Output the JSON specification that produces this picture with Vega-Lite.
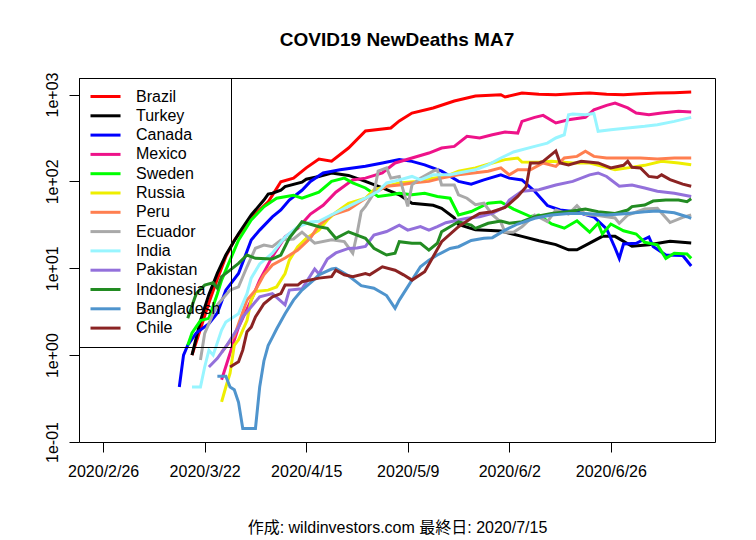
{
  "$schema": "https://vega.github.io/schema/vega-lite/v6.json",
  "width": 636,
  "height": 364,
  "autosize": {"type": "none"},
  "padding": {"left": 79, "top": 78, "right": 41, "bottom": 98},
  "background": "white",
  "title": {
    "text": "COVID19 NewDeaths MA7",
    "font": "Liberation Sans",
    "fontSize": 19,
    "fontWeight": "bold",
    "color": "black",
    "anchor": "middle",
    "frame": "group",
    "baseline": "alphabetic",
    "offset": 7
  },
  "data": {
    "values": [
      {"country": "Brazil", "date": "2020-03-19", "deaths": 1.0},
      {"country": "Brazil", "date": "2020-03-21", "deaths": 2.0},
      {"country": "Brazil", "date": "2020-03-23", "deaths": 4.0},
      {"country": "Brazil", "date": "2020-03-25", "deaths": 7.5},
      {"country": "Brazil", "date": "2020-03-27", "deaths": 13.6},
      {"country": "Brazil", "date": "2020-03-29", "deaths": 21},
      {"country": "Brazil", "date": "2020-04-02", "deaths": 37.9},
      {"country": "Brazil", "date": "2020-04-06", "deaths": 58},
      {"country": "Brazil", "date": "2020-04-09", "deaths": 99},
      {"country": "Brazil", "date": "2020-04-12", "deaths": 109},
      {"country": "Brazil", "date": "2020-04-15", "deaths": 143},
      {"country": "Brazil", "date": "2020-04-18", "deaths": 181},
      {"country": "Brazil", "date": "2020-04-21", "deaths": 171},
      {"country": "Brazil", "date": "2020-04-25", "deaths": 242},
      {"country": "Brazil", "date": "2020-04-29", "deaths": 380},
      {"country": "Brazil", "date": "2020-05-05", "deaths": 412},
      {"country": "Brazil", "date": "2020-05-07", "deaths": 496},
      {"country": "Brazil", "date": "2020-05-10", "deaths": 612},
      {"country": "Brazil", "date": "2020-05-15", "deaths": 700},
      {"country": "Brazil", "date": "2020-05-20", "deaths": 841},
      {"country": "Brazil", "date": "2020-05-25", "deaths": 961},
      {"country": "Brazil", "date": "2020-05-31", "deaths": 995},
      {"country": "Brazil", "date": "2020-06-01", "deaths": 936},
      {"country": "Brazil", "date": "2020-06-05", "deaths": 1040},
      {"country": "Brazil", "date": "2020-06-09", "deaths": 1010},
      {"country": "Brazil", "date": "2020-06-13", "deaths": 995},
      {"country": "Brazil", "date": "2020-06-17", "deaths": 1020},
      {"country": "Brazil", "date": "2020-06-21", "deaths": 1040},
      {"country": "Brazil", "date": "2020-06-25", "deaths": 1010},
      {"country": "Brazil", "date": "2020-06-29", "deaths": 995},
      {"country": "Brazil", "date": "2020-07-03", "deaths": 1020},
      {"country": "Brazil", "date": "2020-07-07", "deaths": 1040},
      {"country": "Brazil", "date": "2020-07-11", "deaths": 1050},
      {"country": "Brazil", "date": "2020-07-15", "deaths": 1069},

      {"country": "Turkey", "date": "2020-03-19", "deaths": 1.0},
      {"country": "Turkey", "date": "2020-03-21", "deaths": 2.5},
      {"country": "Turkey", "date": "2020-03-23", "deaths": 5.0},
      {"country": "Turkey", "date": "2020-03-25", "deaths": 8.8},
      {"country": "Turkey", "date": "2020-03-27", "deaths": 14.2},
      {"country": "Turkey", "date": "2020-03-30", "deaths": 25},
      {"country": "Turkey", "date": "2020-04-02", "deaths": 41},
      {"country": "Turkey", "date": "2020-04-05", "deaths": 61},
      {"country": "Turkey", "date": "2020-04-06", "deaths": 71.5},
      {"country": "Turkey", "date": "2020-04-07", "deaths": 73},
      {"country": "Turkey", "date": "2020-04-09", "deaths": 79},
      {"country": "Turkey", "date": "2020-04-10", "deaths": 87},
      {"country": "Turkey", "date": "2020-04-14", "deaths": 98},
      {"country": "Turkey", "date": "2020-04-15", "deaths": 106},
      {"country": "Turkey", "date": "2020-04-18", "deaths": 114},
      {"country": "Turkey", "date": "2020-04-21", "deaths": 125},
      {"country": "Turkey", "date": "2020-04-25", "deaths": 117},
      {"country": "Turkey", "date": "2020-04-29", "deaths": 100},
      {"country": "Turkey", "date": "2020-05-03", "deaths": 84},
      {"country": "Turkey", "date": "2020-05-07", "deaths": 70},
      {"country": "Turkey", "date": "2020-05-10", "deaths": 56},
      {"country": "Turkey", "date": "2020-05-15", "deaths": 53},
      {"country": "Turkey", "date": "2020-05-17", "deaths": 49},
      {"country": "Turkey", "date": "2020-05-20", "deaths": 38},
      {"country": "Turkey", "date": "2020-05-21", "deaths": 32},
      {"country": "Turkey", "date": "2020-05-25", "deaths": 27.7},
      {"country": "Turkey", "date": "2020-05-31", "deaths": 26.8},
      {"country": "Turkey", "date": "2020-06-05", "deaths": 23.3},
      {"country": "Turkey", "date": "2020-06-09", "deaths": 20.7},
      {"country": "Turkey", "date": "2020-06-13", "deaths": 18.7},
      {"country": "Turkey", "date": "2020-06-16", "deaths": 16.3},
      {"country": "Turkey", "date": "2020-06-18", "deaths": 16.3},
      {"country": "Turkey", "date": "2020-06-21", "deaths": 19.5},
      {"country": "Turkey", "date": "2020-06-24", "deaths": 23.3},
      {"country": "Turkey", "date": "2020-06-27", "deaths": 23.3},
      {"country": "Turkey", "date": "2020-07-01", "deaths": 17.9},
      {"country": "Turkey", "date": "2020-07-05", "deaths": 18.7},
      {"country": "Turkey", "date": "2020-07-10", "deaths": 20.4},
      {"country": "Turkey", "date": "2020-07-15", "deaths": 19.5},

      {"country": "Canada", "date": "2020-03-16", "deaths": 0.43},
      {"country": "Canada", "date": "2020-03-17", "deaths": 1.0},
      {"country": "Canada", "date": "2020-03-18", "deaths": 1.3},
      {"country": "Canada", "date": "2020-03-20", "deaths": 1.8},
      {"country": "Canada", "date": "2020-03-23", "deaths": 2.3},
      {"country": "Canada", "date": "2020-03-25", "deaths": 3.05},
      {"country": "Canada", "date": "2020-03-27", "deaths": 5.6},
      {"country": "Canada", "date": "2020-03-30", "deaths": 8.7},
      {"country": "Canada", "date": "2020-04-02", "deaths": 21.1},
      {"country": "Canada", "date": "2020-04-04", "deaths": 27.5},
      {"country": "Canada", "date": "2020-04-07", "deaths": 39},
      {"country": "Canada", "date": "2020-04-09", "deaths": 46.8},
      {"country": "Canada", "date": "2020-04-11", "deaths": 61},
      {"country": "Canada", "date": "2020-04-14", "deaths": 79},
      {"country": "Canada", "date": "2020-04-16", "deaths": 100},
      {"country": "Canada", "date": "2020-04-19", "deaths": 125},
      {"country": "Canada", "date": "2020-04-23", "deaths": 136},
      {"country": "Canada", "date": "2020-04-29", "deaths": 149},
      {"country": "Canada", "date": "2020-05-03", "deaths": 163},
      {"country": "Canada", "date": "2020-05-07", "deaths": 178},
      {"country": "Canada", "date": "2020-05-10", "deaths": 170},
      {"country": "Canada", "date": "2020-05-13", "deaths": 155},
      {"country": "Canada", "date": "2020-05-17", "deaths": 131},
      {"country": "Canada", "date": "2020-05-21", "deaths": 100},
      {"country": "Canada", "date": "2020-05-24", "deaths": 93},
      {"country": "Canada", "date": "2020-05-27", "deaths": 104},
      {"country": "Canada", "date": "2020-05-31", "deaths": 119},
      {"country": "Canada", "date": "2020-06-02", "deaths": 109},
      {"country": "Canada", "date": "2020-06-05", "deaths": 104},
      {"country": "Canada", "date": "2020-06-08", "deaths": 77},
      {"country": "Canada", "date": "2020-06-11", "deaths": 52.7},
      {"country": "Canada", "date": "2020-06-14", "deaths": 46.8},
      {"country": "Canada", "date": "2020-06-18", "deaths": 44.4},
      {"country": "Canada", "date": "2020-06-22", "deaths": 38.9},
      {"country": "Canada", "date": "2020-06-25", "deaths": 28.3},
      {"country": "Canada", "date": "2020-06-27", "deaths": 17.1},
      {"country": "Canada", "date": "2020-06-28", "deaths": 13},
      {"country": "Canada", "date": "2020-06-29", "deaths": 19},
      {"country": "Canada", "date": "2020-07-02", "deaths": 19.4},
      {"country": "Canada", "date": "2020-07-05", "deaths": 22.9},
      {"country": "Canada", "date": "2020-07-06", "deaths": 17.8},
      {"country": "Canada", "date": "2020-07-09", "deaths": 14.2},
      {"country": "Canada", "date": "2020-07-13", "deaths": 14},
      {"country": "Canada", "date": "2020-07-15", "deaths": 10.6},

      {"country": "Mexico", "date": "2020-03-26", "deaths": 0.52},
      {"country": "Mexico", "date": "2020-03-28", "deaths": 1.05},
      {"country": "Mexico", "date": "2020-03-30", "deaths": 2.1},
      {"country": "Mexico", "date": "2020-04-02", "deaths": 4.3},
      {"country": "Mexico", "date": "2020-04-04", "deaths": 7.3},
      {"country": "Mexico", "date": "2020-04-07", "deaths": 13.6},
      {"country": "Mexico", "date": "2020-04-10", "deaths": 23},
      {"country": "Mexico", "date": "2020-04-13", "deaths": 28.8},
      {"country": "Mexico", "date": "2020-04-16", "deaths": 42},
      {"country": "Mexico", "date": "2020-04-19", "deaths": 53},
      {"country": "Mexico", "date": "2020-04-22", "deaths": 75},
      {"country": "Mexico", "date": "2020-04-26", "deaths": 104},
      {"country": "Mexico", "date": "2020-04-29", "deaths": 109},
      {"country": "Mexico", "date": "2020-05-03", "deaths": 125},
      {"country": "Mexico", "date": "2020-05-06", "deaths": 163},
      {"country": "Mexico", "date": "2020-05-10", "deaths": 186},
      {"country": "Mexico", "date": "2020-05-14", "deaths": 212},
      {"country": "Mexico", "date": "2020-05-17", "deaths": 242},
      {"country": "Mexico", "date": "2020-05-20", "deaths": 253},
      {"country": "Mexico", "date": "2020-05-23", "deaths": 330},
      {"country": "Mexico", "date": "2020-05-26", "deaths": 316},
      {"country": "Mexico", "date": "2020-05-29", "deaths": 344},
      {"country": "Mexico", "date": "2020-06-01", "deaths": 370},
      {"country": "Mexico", "date": "2020-06-04", "deaths": 360},
      {"country": "Mexico", "date": "2020-06-05", "deaths": 491},
      {"country": "Mexico", "date": "2020-06-08", "deaths": 546},
      {"country": "Mexico", "date": "2020-06-10", "deaths": 575},
      {"country": "Mexico", "date": "2020-06-13", "deaths": 470},
      {"country": "Mexico", "date": "2020-06-16", "deaths": 513},
      {"country": "Mexico", "date": "2020-06-20", "deaths": 546},
      {"country": "Mexico", "date": "2020-06-22", "deaths": 668},
      {"country": "Mexico", "date": "2020-06-25", "deaths": 751},
      {"country": "Mexico", "date": "2020-06-27", "deaths": 798},
      {"country": "Mexico", "date": "2020-06-30", "deaths": 700},
      {"country": "Mexico", "date": "2020-07-02", "deaths": 612},
      {"country": "Mexico", "date": "2020-07-05", "deaths": 585},
      {"country": "Mexico", "date": "2020-07-08", "deaths": 612},
      {"country": "Mexico", "date": "2020-07-12", "deaths": 641},
      {"country": "Mexico", "date": "2020-07-15", "deaths": 630},

      {"country": "Sweden", "date": "2020-03-18", "deaths": 1.3},
      {"country": "Sweden", "date": "2020-03-19", "deaths": 1.8},
      {"country": "Sweden", "date": "2020-03-21", "deaths": 2.5},
      {"country": "Sweden", "date": "2020-03-23", "deaths": 2.65},
      {"country": "Sweden", "date": "2020-03-25", "deaths": 5.1},
      {"country": "Sweden", "date": "2020-03-26", "deaths": 7.3},
      {"country": "Sweden", "date": "2020-03-28", "deaths": 12.4},
      {"country": "Sweden", "date": "2020-03-30", "deaths": 21.1},
      {"country": "Sweden", "date": "2020-04-02", "deaths": 35.9},
      {"country": "Sweden", "date": "2020-04-05", "deaths": 51},
      {"country": "Sweden", "date": "2020-04-08", "deaths": 64},
      {"country": "Sweden", "date": "2020-04-12", "deaths": 69},
      {"country": "Sweden", "date": "2020-04-14", "deaths": 64},
      {"country": "Sweden", "date": "2020-04-18", "deaths": 75},
      {"country": "Sweden", "date": "2020-04-21", "deaths": 100},
      {"country": "Sweden", "date": "2020-04-24", "deaths": 109},
      {"country": "Sweden", "date": "2020-04-26", "deaths": 96},
      {"country": "Sweden", "date": "2020-04-29", "deaths": 84},
      {"country": "Sweden", "date": "2020-05-02", "deaths": 67},
      {"country": "Sweden", "date": "2020-05-05", "deaths": 70},
      {"country": "Sweden", "date": "2020-05-07", "deaths": 73},
      {"country": "Sweden", "date": "2020-05-10", "deaths": 70},
      {"country": "Sweden", "date": "2020-05-13", "deaths": 73},
      {"country": "Sweden", "date": "2020-05-16", "deaths": 67},
      {"country": "Sweden", "date": "2020-05-19", "deaths": 64},
      {"country": "Sweden", "date": "2020-05-21", "deaths": 41},
      {"country": "Sweden", "date": "2020-05-24", "deaths": 45},
      {"country": "Sweden", "date": "2020-05-28", "deaths": 56},
      {"country": "Sweden", "date": "2020-05-31", "deaths": 58},
      {"country": "Sweden", "date": "2020-06-03", "deaths": 48},
      {"country": "Sweden", "date": "2020-06-07", "deaths": 39.4},
      {"country": "Sweden", "date": "2020-06-09", "deaths": 41},
      {"country": "Sweden", "date": "2020-06-12", "deaths": 32.3},
      {"country": "Sweden", "date": "2020-06-15", "deaths": 28.9},
      {"country": "Sweden", "date": "2020-06-18", "deaths": 35.2},
      {"country": "Sweden", "date": "2020-06-21", "deaths": 26},
      {"country": "Sweden", "date": "2020-06-23", "deaths": 33},
      {"country": "Sweden", "date": "2020-06-24", "deaths": 24.8},
      {"country": "Sweden", "date": "2020-06-26", "deaths": 32.3},
      {"country": "Sweden", "date": "2020-06-29", "deaths": 27},
      {"country": "Sweden", "date": "2020-07-02", "deaths": 24.8},
      {"country": "Sweden", "date": "2020-07-04", "deaths": 19.9},
      {"country": "Sweden", "date": "2020-07-07", "deaths": 18.6},
      {"country": "Sweden", "date": "2020-07-09", "deaths": 13},
      {"country": "Sweden", "date": "2020-07-11", "deaths": 14.9},
      {"country": "Sweden", "date": "2020-07-14", "deaths": 14.6},
      {"country": "Sweden", "date": "2020-07-15", "deaths": 13},

      {"country": "Russia", "date": "2020-03-26", "deaths": 0.29},
      {"country": "Russia", "date": "2020-03-27", "deaths": 0.43},
      {"country": "Russia", "date": "2020-03-28", "deaths": 0.62},
      {"country": "Russia", "date": "2020-03-29", "deaths": 1.3},
      {"country": "Russia", "date": "2020-03-30", "deaths": 1.5},
      {"country": "Russia", "date": "2020-04-01", "deaths": 2.5},
      {"country": "Russia", "date": "2020-04-02", "deaths": 4.3},
      {"country": "Russia", "date": "2020-04-03", "deaths": 5.4},
      {"country": "Russia", "date": "2020-04-06", "deaths": 5.6},
      {"country": "Russia", "date": "2020-04-08", "deaths": 6.1},
      {"country": "Russia", "date": "2020-04-10", "deaths": 8.7},
      {"country": "Russia", "date": "2020-04-11", "deaths": 12.4},
      {"country": "Russia", "date": "2020-04-13", "deaths": 17.7},
      {"country": "Russia", "date": "2020-04-15", "deaths": 22},
      {"country": "Russia", "date": "2020-04-18", "deaths": 27.5},
      {"country": "Russia", "date": "2020-04-20", "deaths": 36},
      {"country": "Russia", "date": "2020-04-22", "deaths": 44},
      {"country": "Russia", "date": "2020-04-25", "deaths": 56},
      {"country": "Russia", "date": "2020-04-29", "deaths": 64},
      {"country": "Russia", "date": "2020-05-01", "deaths": 80},
      {"country": "Russia", "date": "2020-05-04", "deaths": 88},
      {"country": "Russia", "date": "2020-05-07", "deaths": 96},
      {"country": "Russia", "date": "2020-05-11", "deaths": 100},
      {"country": "Russia", "date": "2020-05-15", "deaths": 109},
      {"country": "Russia", "date": "2020-05-18", "deaths": 114},
      {"country": "Russia", "date": "2020-05-21", "deaths": 131},
      {"country": "Russia", "date": "2020-05-25", "deaths": 143},
      {"country": "Russia", "date": "2020-05-29", "deaths": 163},
      {"country": "Russia", "date": "2020-06-01", "deaths": 178},
      {"country": "Russia", "date": "2020-06-04", "deaths": 186},
      {"country": "Russia", "date": "2020-06-05", "deaths": 167},
      {"country": "Russia", "date": "2020-06-09", "deaths": 166},
      {"country": "Russia", "date": "2020-06-12", "deaths": 170},
      {"country": "Russia", "date": "2020-06-17", "deaths": 163},
      {"country": "Russia", "date": "2020-06-21", "deaths": 163},
      {"country": "Russia", "date": "2020-06-24", "deaths": 149},
      {"country": "Russia", "date": "2020-06-27", "deaths": 136},
      {"country": "Russia", "date": "2020-06-30", "deaths": 143},
      {"country": "Russia", "date": "2020-07-04", "deaths": 153},
      {"country": "Russia", "date": "2020-07-08", "deaths": 170},
      {"country": "Russia", "date": "2020-07-12", "deaths": 163},
      {"country": "Russia", "date": "2020-07-15", "deaths": 155},

      {"country": "Peru", "date": "2020-03-26", "deaths": 1.08},
      {"country": "Peru", "date": "2020-03-29", "deaths": 1.66},
      {"country": "Peru", "date": "2020-04-01", "deaths": 4.3},
      {"country": "Peru", "date": "2020-04-03", "deaths": 5.6},
      {"country": "Peru", "date": "2020-04-05", "deaths": 8.4},
      {"country": "Peru", "date": "2020-04-07", "deaths": 10.9},
      {"country": "Peru", "date": "2020-04-10", "deaths": 13.1},
      {"country": "Peru", "date": "2020-04-13", "deaths": 16.2},
      {"country": "Peru", "date": "2020-04-16", "deaths": 22.3},
      {"country": "Peru", "date": "2020-04-18", "deaths": 31.4},
      {"country": "Peru", "date": "2020-04-21", "deaths": 41},
      {"country": "Peru", "date": "2020-04-25", "deaths": 47.2},
      {"country": "Peru", "date": "2020-04-28", "deaths": 59},
      {"country": "Peru", "date": "2020-05-01", "deaths": 73},
      {"country": "Peru", "date": "2020-05-04", "deaths": 88},
      {"country": "Peru", "date": "2020-05-07", "deaths": 91},
      {"country": "Peru", "date": "2020-05-10", "deaths": 96},
      {"country": "Peru", "date": "2020-05-14", "deaths": 100},
      {"country": "Peru", "date": "2020-05-17", "deaths": 109},
      {"country": "Peru", "date": "2020-05-21", "deaths": 119},
      {"country": "Peru", "date": "2020-05-28", "deaths": 131},
      {"country": "Peru", "date": "2020-05-31", "deaths": 143},
      {"country": "Peru", "date": "2020-06-02", "deaths": 119},
      {"country": "Peru", "date": "2020-06-04", "deaths": 136},
      {"country": "Peru", "date": "2020-06-07", "deaths": 136},
      {"country": "Peru", "date": "2020-06-10", "deaths": 163},
      {"country": "Peru", "date": "2020-06-13", "deaths": 149},
      {"country": "Peru", "date": "2020-06-15", "deaths": 186},
      {"country": "Peru", "date": "2020-06-18", "deaths": 194},
      {"country": "Peru", "date": "2020-06-20", "deaths": 222},
      {"country": "Peru", "date": "2020-06-22", "deaths": 194},
      {"country": "Peru", "date": "2020-06-25", "deaths": 186},
      {"country": "Peru", "date": "2020-07-03", "deaths": 186},
      {"country": "Peru", "date": "2020-07-07", "deaths": 181},
      {"country": "Peru", "date": "2020-07-11", "deaths": 186},
      {"country": "Peru", "date": "2020-07-15", "deaths": 186},

      {"country": "Ecuador", "date": "2020-03-21", "deaths": 0.88},
      {"country": "Ecuador", "date": "2020-03-22", "deaths": 1.78},
      {"country": "Ecuador", "date": "2020-03-24", "deaths": 3.0},
      {"country": "Ecuador", "date": "2020-03-25", "deaths": 3.8},
      {"country": "Ecuador", "date": "2020-03-28", "deaths": 5.6},
      {"country": "Ecuador", "date": "2020-03-30", "deaths": 6.1},
      {"country": "Ecuador", "date": "2020-04-01", "deaths": 10.4},
      {"country": "Ecuador", "date": "2020-04-03", "deaths": 17},
      {"country": "Ecuador", "date": "2020-04-05", "deaths": 18.5},
      {"country": "Ecuador", "date": "2020-04-07", "deaths": 17.7},
      {"country": "Ecuador", "date": "2020-04-09", "deaths": 21.1},
      {"country": "Ecuador", "date": "2020-04-12", "deaths": 21.7},
      {"country": "Ecuador", "date": "2020-04-14", "deaths": 26},
      {"country": "Ecuador", "date": "2020-04-17", "deaths": 19.4},
      {"country": "Ecuador", "date": "2020-04-21", "deaths": 21.3},
      {"country": "Ecuador", "date": "2020-04-24", "deaths": 20.3},
      {"country": "Ecuador", "date": "2020-04-26", "deaths": 14.9},
      {"country": "Ecuador", "date": "2020-04-27", "deaths": 24.8},
      {"country": "Ecuador", "date": "2020-04-28", "deaths": 45},
      {"country": "Ecuador", "date": "2020-04-29", "deaths": 51.6},
      {"country": "Ecuador", "date": "2020-05-01", "deaths": 73},
      {"country": "Ecuador", "date": "2020-05-02", "deaths": 131},
      {"country": "Ecuador", "date": "2020-05-04", "deaths": 143},
      {"country": "Ecuador", "date": "2020-05-05", "deaths": 109},
      {"country": "Ecuador", "date": "2020-05-07", "deaths": 114},
      {"country": "Ecuador", "date": "2020-05-09", "deaths": 51.6},
      {"country": "Ecuador", "date": "2020-05-10", "deaths": 91},
      {"country": "Ecuador", "date": "2020-05-12", "deaths": 109},
      {"country": "Ecuador", "date": "2020-05-15", "deaths": 131},
      {"country": "Ecuador", "date": "2020-05-16", "deaths": 136},
      {"country": "Ecuador", "date": "2020-05-17", "deaths": 91},
      {"country": "Ecuador", "date": "2020-05-20", "deaths": 91},
      {"country": "Ecuador", "date": "2020-05-21", "deaths": 70},
      {"country": "Ecuador", "date": "2020-05-23", "deaths": 64},
      {"country": "Ecuador", "date": "2020-05-25", "deaths": 53.8},
      {"country": "Ecuador", "date": "2020-05-27", "deaths": 56},
      {"country": "Ecuador", "date": "2020-05-29", "deaths": 41.3},
      {"country": "Ecuador", "date": "2020-05-31", "deaths": 34},
      {"country": "Ecuador", "date": "2020-06-01", "deaths": 26},
      {"country": "Ecuador", "date": "2020-06-03", "deaths": 26},
      {"country": "Ecuador", "date": "2020-06-05", "deaths": 30},
      {"country": "Ecuador", "date": "2020-06-08", "deaths": 41},
      {"country": "Ecuador", "date": "2020-06-11", "deaths": 34.5},
      {"country": "Ecuador", "date": "2020-06-13", "deaths": 46.8},
      {"country": "Ecuador", "date": "2020-06-16", "deaths": 42},
      {"country": "Ecuador", "date": "2020-06-18", "deaths": 52.7},
      {"country": "Ecuador", "date": "2020-06-20", "deaths": 41.5},
      {"country": "Ecuador", "date": "2020-06-23", "deaths": 40.5},
      {"country": "Ecuador", "date": "2020-06-27", "deaths": 37.9},
      {"country": "Ecuador", "date": "2020-06-28", "deaths": 32.9},
      {"country": "Ecuador", "date": "2020-06-30", "deaths": 41},
      {"country": "Ecuador", "date": "2020-07-04", "deaths": 48},
      {"country": "Ecuador", "date": "2020-07-07", "deaths": 49},
      {"country": "Ecuador", "date": "2020-07-10", "deaths": 33.6},
      {"country": "Ecuador", "date": "2020-07-13", "deaths": 38.5},
      {"country": "Ecuador", "date": "2020-07-15", "deaths": 41},

      {"country": "India", "date": "2020-03-19", "deaths": 0.43},
      {"country": "India", "date": "2020-03-21", "deaths": 0.43},
      {"country": "India", "date": "2020-03-22", "deaths": 0.73},
      {"country": "India", "date": "2020-03-23", "deaths": 1.14},
      {"country": "India", "date": "2020-03-24", "deaths": 1.0},
      {"country": "India", "date": "2020-03-26", "deaths": 1.94},
      {"country": "India", "date": "2020-03-27", "deaths": 2.4},
      {"country": "India", "date": "2020-03-30", "deaths": 3.0},
      {"country": "India", "date": "2020-04-01", "deaths": 5.1},
      {"country": "India", "date": "2020-04-02", "deaths": 7.7},
      {"country": "India", "date": "2020-04-04", "deaths": 11.2},
      {"country": "India", "date": "2020-04-07", "deaths": 14.9},
      {"country": "India", "date": "2020-04-10", "deaths": 22.9},
      {"country": "India", "date": "2020-04-13", "deaths": 30},
      {"country": "India", "date": "2020-04-16", "deaths": 34},
      {"country": "India", "date": "2020-04-18", "deaths": 34.7},
      {"country": "India", "date": "2020-04-21", "deaths": 41.3},
      {"country": "India", "date": "2020-04-25", "deaths": 51.6},
      {"country": "India", "date": "2020-04-29", "deaths": 64},
      {"country": "India", "date": "2020-05-02", "deaths": 77},
      {"country": "India", "date": "2020-05-04", "deaths": 96},
      {"country": "India", "date": "2020-05-07", "deaths": 104},
      {"country": "India", "date": "2020-05-10", "deaths": 114},
      {"country": "India", "date": "2020-05-12", "deaths": 104},
      {"country": "India", "date": "2020-05-15", "deaths": 119},
      {"country": "India", "date": "2020-05-19", "deaths": 119},
      {"country": "India", "date": "2020-05-21", "deaths": 125},
      {"country": "India", "date": "2020-05-25", "deaths": 136},
      {"country": "India", "date": "2020-05-28", "deaths": 155},
      {"country": "India", "date": "2020-05-31", "deaths": 186},
      {"country": "India", "date": "2020-06-03", "deaths": 218},
      {"country": "India", "date": "2020-06-08", "deaths": 253},
      {"country": "India", "date": "2020-06-11", "deaths": 276},
      {"country": "India", "date": "2020-06-13", "deaths": 316},
      {"country": "India", "date": "2020-06-15", "deaths": 344},
      {"country": "India", "date": "2020-06-16", "deaths": 585},
      {"country": "India", "date": "2020-06-17", "deaths": 596},
      {"country": "India", "date": "2020-06-20", "deaths": 585},
      {"country": "India", "date": "2020-06-22", "deaths": 605},
      {"country": "India", "date": "2020-06-23", "deaths": 377},
      {"country": "India", "date": "2020-06-26", "deaths": 393},
      {"country": "India", "date": "2020-06-30", "deaths": 411},
      {"country": "India", "date": "2020-07-04", "deaths": 430},
      {"country": "India", "date": "2020-07-07", "deaths": 449},
      {"country": "India", "date": "2020-07-11", "deaths": 491},
      {"country": "India", "date": "2020-07-15", "deaths": 546},

      {"country": "Pakistan", "date": "2020-03-23", "deaths": 0.73},
      {"country": "Pakistan", "date": "2020-03-25", "deaths": 0.92},
      {"country": "Pakistan", "date": "2020-03-27", "deaths": 1.25},
      {"country": "Pakistan", "date": "2020-03-30", "deaths": 2.1},
      {"country": "Pakistan", "date": "2020-03-31", "deaths": 2.76},
      {"country": "Pakistan", "date": "2020-04-02", "deaths": 3.6},
      {"country": "Pakistan", "date": "2020-04-04", "deaths": 4.7},
      {"country": "Pakistan", "date": "2020-04-07", "deaths": 5.1},
      {"country": "Pakistan", "date": "2020-04-10", "deaths": 3.8},
      {"country": "Pakistan", "date": "2020-04-11", "deaths": 5.6},
      {"country": "Pakistan", "date": "2020-04-14", "deaths": 5.8},
      {"country": "Pakistan", "date": "2020-04-17", "deaths": 9.8},
      {"country": "Pakistan", "date": "2020-04-18", "deaths": 8.6},
      {"country": "Pakistan", "date": "2020-04-20", "deaths": 12.8},
      {"country": "Pakistan", "date": "2020-04-22", "deaths": 15},
      {"country": "Pakistan", "date": "2020-04-25", "deaths": 16.9},
      {"country": "Pakistan", "date": "2020-04-27", "deaths": 17.1},
      {"country": "Pakistan", "date": "2020-04-29", "deaths": 17.8},
      {"country": "Pakistan", "date": "2020-05-01", "deaths": 24.1},
      {"country": "Pakistan", "date": "2020-05-04", "deaths": 26.5},
      {"country": "Pakistan", "date": "2020-05-07", "deaths": 31.4},
      {"country": "Pakistan", "date": "2020-05-09", "deaths": 27.5},
      {"country": "Pakistan", "date": "2020-05-12", "deaths": 30.2},
      {"country": "Pakistan", "date": "2020-05-14", "deaths": 27.5},
      {"country": "Pakistan", "date": "2020-05-16", "deaths": 30.1},
      {"country": "Pakistan", "date": "2020-05-18", "deaths": 33.4},
      {"country": "Pakistan", "date": "2020-05-21", "deaths": 35.9},
      {"country": "Pakistan", "date": "2020-05-23", "deaths": 37.6},
      {"country": "Pakistan", "date": "2020-05-26", "deaths": 39.2},
      {"country": "Pakistan", "date": "2020-05-29", "deaths": 42.8},
      {"country": "Pakistan", "date": "2020-06-01", "deaths": 51},
      {"country": "Pakistan", "date": "2020-06-02", "deaths": 61},
      {"country": "Pakistan", "date": "2020-06-05", "deaths": 77},
      {"country": "Pakistan", "date": "2020-06-09", "deaths": 80},
      {"country": "Pakistan", "date": "2020-06-13", "deaths": 91},
      {"country": "Pakistan", "date": "2020-06-17", "deaths": 100},
      {"country": "Pakistan", "date": "2020-06-21", "deaths": 119},
      {"country": "Pakistan", "date": "2020-06-23", "deaths": 125},
      {"country": "Pakistan", "date": "2020-06-25", "deaths": 114},
      {"country": "Pakistan", "date": "2020-06-28", "deaths": 88},
      {"country": "Pakistan", "date": "2020-07-01", "deaths": 91},
      {"country": "Pakistan", "date": "2020-07-04", "deaths": 84},
      {"country": "Pakistan", "date": "2020-07-07", "deaths": 77},
      {"country": "Pakistan", "date": "2020-07-11", "deaths": 73},
      {"country": "Pakistan", "date": "2020-07-15", "deaths": 67},

      {"country": "Indonesia", "date": "2020-03-18", "deaths": 2.65},
      {"country": "Indonesia", "date": "2020-03-20", "deaths": 5.1},
      {"country": "Indonesia", "date": "2020-03-22", "deaths": 6.4},
      {"country": "Indonesia", "date": "2020-03-24", "deaths": 6.8},
      {"country": "Indonesia", "date": "2020-03-25", "deaths": 5.9},
      {"country": "Indonesia", "date": "2020-03-26", "deaths": 8.0},
      {"country": "Indonesia", "date": "2020-03-28", "deaths": 9.5},
      {"country": "Indonesia", "date": "2020-03-30", "deaths": 11.4},
      {"country": "Indonesia", "date": "2020-04-01", "deaths": 14.2},
      {"country": "Indonesia", "date": "2020-04-03", "deaths": 13},
      {"country": "Indonesia", "date": "2020-04-07", "deaths": 12.8},
      {"country": "Indonesia", "date": "2020-04-09", "deaths": 14.2},
      {"country": "Indonesia", "date": "2020-04-11", "deaths": 22.3},
      {"country": "Indonesia", "date": "2020-04-14", "deaths": 34.3},
      {"country": "Indonesia", "date": "2020-04-18", "deaths": 30.1},
      {"country": "Indonesia", "date": "2020-04-20", "deaths": 28.8},
      {"country": "Indonesia", "date": "2020-04-22", "deaths": 22.1},
      {"country": "Indonesia", "date": "2020-04-25", "deaths": 26.3},
      {"country": "Indonesia", "date": "2020-04-27", "deaths": 24.1},
      {"country": "Indonesia", "date": "2020-04-29", "deaths": 22.1},
      {"country": "Indonesia", "date": "2020-05-01", "deaths": 17},
      {"country": "Indonesia", "date": "2020-05-04", "deaths": 14.2},
      {"country": "Indonesia", "date": "2020-05-06", "deaths": 14.9},
      {"country": "Indonesia", "date": "2020-05-07", "deaths": 20.2},
      {"country": "Indonesia", "date": "2020-05-10", "deaths": 19.4},
      {"country": "Indonesia", "date": "2020-05-12", "deaths": 19.4},
      {"country": "Indonesia", "date": "2020-05-14", "deaths": 16.2},
      {"country": "Indonesia", "date": "2020-05-16", "deaths": 19.4},
      {"country": "Indonesia", "date": "2020-05-17", "deaths": 26.3},
      {"country": "Indonesia", "date": "2020-05-19", "deaths": 30.1},
      {"country": "Indonesia", "date": "2020-05-21", "deaths": 34.3},
      {"country": "Indonesia", "date": "2020-05-24", "deaths": 31.4},
      {"country": "Indonesia", "date": "2020-05-25", "deaths": 28.8},
      {"country": "Indonesia", "date": "2020-05-28", "deaths": 32.9},
      {"country": "Indonesia", "date": "2020-05-31", "deaths": 34.9},
      {"country": "Indonesia", "date": "2020-06-02", "deaths": 32.9},
      {"country": "Indonesia", "date": "2020-06-05", "deaths": 34.3},
      {"country": "Indonesia", "date": "2020-06-08", "deaths": 39.2},
      {"country": "Indonesia", "date": "2020-06-12", "deaths": 42.8},
      {"country": "Indonesia", "date": "2020-06-16", "deaths": 45},
      {"country": "Indonesia", "date": "2020-06-20", "deaths": 48},
      {"country": "Indonesia", "date": "2020-06-23", "deaths": 44.7},
      {"country": "Indonesia", "date": "2020-06-27", "deaths": 42.8},
      {"country": "Indonesia", "date": "2020-06-30", "deaths": 46.8},
      {"country": "Indonesia", "date": "2020-07-01", "deaths": 51.3},
      {"country": "Indonesia", "date": "2020-07-04", "deaths": 53.4},
      {"country": "Indonesia", "date": "2020-07-06", "deaths": 59.4},
      {"country": "Indonesia", "date": "2020-07-09", "deaths": 61},
      {"country": "Indonesia", "date": "2020-07-12", "deaths": 61},
      {"country": "Indonesia", "date": "2020-07-14", "deaths": 58.4},
      {"country": "Indonesia", "date": "2020-07-15", "deaths": 63},

      {"country": "Bangladesh", "date": "2020-03-25", "deaths": 0.571},
      {"country": "Bangladesh", "date": "2020-03-27", "deaths": 0.571},
      {"country": "Bangladesh", "date": "2020-03-28", "deaths": 0.429},
      {"country": "Bangladesh", "date": "2020-03-29", "deaths": 0.40},
      {"country": "Bangladesh", "date": "2020-03-30", "deaths": 0.286},
      {"country": "Bangladesh", "date": "2020-03-31", "deaths": 0.143},
      {"country": "Bangladesh", "date": "2020-04-03", "deaths": 0.143},
      {"country": "Bangladesh", "date": "2020-04-04", "deaths": 0.429},
      {"country": "Bangladesh", "date": "2020-04-05", "deaths": 0.857},
      {"country": "Bangladesh", "date": "2020-04-06", "deaths": 1.286},
      {"country": "Bangladesh", "date": "2020-04-07", "deaths": 1.6},
      {"country": "Bangladesh", "date": "2020-04-08", "deaths": 2.0},
      {"country": "Bangladesh", "date": "2020-04-10", "deaths": 3.0},
      {"country": "Bangladesh", "date": "2020-04-12", "deaths": 4.3},
      {"country": "Bangladesh", "date": "2020-04-14", "deaths": 5.6},
      {"country": "Bangladesh", "date": "2020-04-17", "deaths": 7.5},
      {"country": "Bangladesh", "date": "2020-04-18", "deaths": 8.4},
      {"country": "Bangladesh", "date": "2020-04-21", "deaths": 9.8},
      {"country": "Bangladesh", "date": "2020-04-22", "deaths": 10},
      {"country": "Bangladesh", "date": "2020-04-25", "deaths": 8.2},
      {"country": "Bangladesh", "date": "2020-04-28", "deaths": 6.3},
      {"country": "Bangladesh", "date": "2020-05-01", "deaths": 5.9},
      {"country": "Bangladesh", "date": "2020-05-04", "deaths": 4.85},
      {"country": "Bangladesh", "date": "2020-05-06", "deaths": 3.46},
      {"country": "Bangladesh", "date": "2020-05-07", "deaths": 4.3},
      {"country": "Bangladesh", "date": "2020-05-10", "deaths": 7.3},
      {"country": "Bangladesh", "date": "2020-05-12", "deaths": 10.4},
      {"country": "Bangladesh", "date": "2020-05-14", "deaths": 12.4},
      {"country": "Bangladesh", "date": "2020-05-16", "deaths": 14.2},
      {"country": "Bangladesh", "date": "2020-05-19", "deaths": 16.9},
      {"country": "Bangladesh", "date": "2020-05-21", "deaths": 17.7},
      {"country": "Bangladesh", "date": "2020-05-24", "deaths": 20.9},
      {"country": "Bangladesh", "date": "2020-05-27", "deaths": 22.1},
      {"country": "Bangladesh", "date": "2020-05-29", "deaths": 22.5},
      {"country": "Bangladesh", "date": "2020-06-01", "deaths": 27.5},
      {"country": "Bangladesh", "date": "2020-06-04", "deaths": 32.3},
      {"country": "Bangladesh", "date": "2020-06-08", "deaths": 37.6},
      {"country": "Bangladesh", "date": "2020-06-12", "deaths": 41},
      {"country": "Bangladesh", "date": "2020-06-16", "deaths": 42.8},
      {"country": "Bangladesh", "date": "2020-06-20", "deaths": 42.8},
      {"country": "Bangladesh", "date": "2020-06-25", "deaths": 41},
      {"country": "Bangladesh", "date": "2020-06-30", "deaths": 42.8},
      {"country": "Bangladesh", "date": "2020-07-04", "deaths": 44.7},
      {"country": "Bangladesh", "date": "2020-07-07", "deaths": 45.5},
      {"country": "Bangladesh", "date": "2020-07-11", "deaths": 43.6},
      {"country": "Bangladesh", "date": "2020-07-14", "deaths": 39.2},
      {"country": "Bangladesh", "date": "2020-07-15", "deaths": 37.6},

      {"country": "Chile", "date": "2020-03-28", "deaths": 0.73},
      {"country": "Chile", "date": "2020-03-30", "deaths": 0.84},
      {"country": "Chile", "date": "2020-03-31", "deaths": 1.14},
      {"country": "Chile", "date": "2020-04-01", "deaths": 1.86},
      {"country": "Chile", "date": "2020-04-02", "deaths": 2.1},
      {"country": "Chile", "date": "2020-04-03", "deaths": 2.76},
      {"country": "Chile", "date": "2020-04-05", "deaths": 3.9},
      {"country": "Chile", "date": "2020-04-07", "deaths": 4.7},
      {"country": "Chile", "date": "2020-04-09", "deaths": 5.1},
      {"country": "Chile", "date": "2020-04-10", "deaths": 6.4},
      {"country": "Chile", "date": "2020-04-13", "deaths": 6.4},
      {"country": "Chile", "date": "2020-04-14", "deaths": 7.0},
      {"country": "Chile", "date": "2020-04-18", "deaths": 7.7},
      {"country": "Chile", "date": "2020-04-21", "deaths": 8.0},
      {"country": "Chile", "date": "2020-04-22", "deaths": 9.5},
      {"country": "Chile", "date": "2020-04-24", "deaths": 8.4},
      {"country": "Chile", "date": "2020-04-26", "deaths": 8.0},
      {"country": "Chile", "date": "2020-04-29", "deaths": 8.7},
      {"country": "Chile", "date": "2020-04-30", "deaths": 8.4},
      {"country": "Chile", "date": "2020-05-03", "deaths": 10.4},
      {"country": "Chile", "date": "2020-05-06", "deaths": 9.5},
      {"country": "Chile", "date": "2020-05-08", "deaths": 8.4},
      {"country": "Chile", "date": "2020-05-10", "deaths": 7.3},
      {"country": "Chile", "date": "2020-05-13", "deaths": 9.1},
      {"country": "Chile", "date": "2020-05-15", "deaths": 13.6},
      {"country": "Chile", "date": "2020-05-17", "deaths": 20.2},
      {"country": "Chile", "date": "2020-05-21", "deaths": 30.1},
      {"country": "Chile", "date": "2020-05-24", "deaths": 37.6},
      {"country": "Chile", "date": "2020-05-26", "deaths": 42.8},
      {"country": "Chile", "date": "2020-05-29", "deaths": 44.7},
      {"country": "Chile", "date": "2020-06-01", "deaths": 50},
      {"country": "Chile", "date": "2020-06-04", "deaths": 67},
      {"country": "Chile", "date": "2020-06-06", "deaths": 87},
      {"country": "Chile", "date": "2020-06-07", "deaths": 163},
      {"country": "Chile", "date": "2020-06-09", "deaths": 163},
      {"country": "Chile", "date": "2020-06-10", "deaths": 170},
      {"country": "Chile", "date": "2020-06-13", "deaths": 224},
      {"country": "Chile", "date": "2020-06-14", "deaths": 163},
      {"country": "Chile", "date": "2020-06-16", "deaths": 155},
      {"country": "Chile", "date": "2020-06-19", "deaths": 170},
      {"country": "Chile", "date": "2020-06-23", "deaths": 163},
      {"country": "Chile", "date": "2020-06-26", "deaths": 143},
      {"country": "Chile", "date": "2020-06-29", "deaths": 153},
      {"country": "Chile", "date": "2020-06-30", "deaths": 170},
      {"country": "Chile", "date": "2020-07-01", "deaths": 145},
      {"country": "Chile", "date": "2020-07-03", "deaths": 143},
      {"country": "Chile", "date": "2020-07-05", "deaths": 114},
      {"country": "Chile", "date": "2020-07-07", "deaths": 111},
      {"country": "Chile", "date": "2020-07-08", "deaths": 119},
      {"country": "Chile", "date": "2020-07-10", "deaths": 105},
      {"country": "Chile", "date": "2020-07-13", "deaths": 93},
      {"country": "Chile", "date": "2020-07-15", "deaths": 88}
    ]
  },
  "mark": {"type": "line", "strokeWidth": 3},
  "encoding": {
    "x": {
      "field": "date",
      "type": "temporal",
      "scale": {
        "type": "utc",
        "domain": [1582268400000, 1595257200000]
      },
      "axis": {
        "values": [1582761600000, 1584835200000, 1586908800000, 1588982400000, 1591056000000, 1593129600000],
        "labelExpr": "datum.value < 1583020800000 ? '2020/2/26' : utcFormat(datum.value, '%Y/%-m/%-d')",
        "labelPadding": 11,
        "labelFlush": false,
        "labelOverlap": false,
        "title": "作成: wildinvestors.com 最終日: 2020/7/15",
        "titleFont": "Liberation Sans, Noto Sans CJK JP",
        "titleFontSize": 16,
        "titleFontWeight": "normal",
        "titleBaseline": "alphabetic",
        "titleY": 90,
        "titleAnchor": "middle"
      }
    },
    "y": {
      "field": "deaths",
      "type": "quantitative",
      "scale": {"type": "log", "domain": [0.1, 1549], "nice": false},
      "axis": {
        "values": [0.1, 1, 10, 100, 1000],
        "labelExpr": "datum.value < 0.5 ? '1e-01' : datum.value < 5 ? '1e+00' : datum.value < 50 ? '1e+01' : datum.value < 500 ? '1e+02' : '1e+03'",
        "labelAngle": 270,
        "labelAlign": "center",
        "labelBaseline": "alphabetic",
        "labelPadding": 12,
        "title": null
      }
    },
    "color": {
      "field": "country",
      "type": "nominal",
      "scale": {
        "domain": ["Brazil", "Turkey", "Canada", "Mexico", "Sweden", "Russia", "Peru", "Ecuador", "India", "Pakistan", "Indonesia", "Bangladesh", "Chile"],
        "range": ["#FF0000", "#000000", "#0000FF", "#EE1289", "#00FF00", "#EEEE00", "#FF7F50", "#A9A9A9", "#98F5FF", "#9370DB", "#228B22", "#4F94CD", "#8B2323"]
      },
      "legend": {
        "orient": "top-left",
        "offset": 0,
        "title": null,
        "symbolType": "M-1,0H3.29",
        "symbolSize": 196,
        "symbolStrokeWidth": 3,
        "labelFont": "Liberation Sans",
        "labelFontSize": 16,
        "labelColor": "black",
        "labelOffset": 30,
        "labelLimit": 0,
        "rowPadding": 2.3,
        "padding": 10,
        "strokeColor": "black",
        "cornerRadius": 0
      }
    }
  },
  "config": {
    "view": {"stroke": "black", "strokeWidth": 1},
    "axis": {
      "grid": false,
      "domain": false,
      "ticks": true,
      "tickColor": "black",
      "tickSize": 10,
      "tickWidth": 1,
      "labelFont": "Liberation Sans",
      "labelFontSize": 16,
      "labelColor": "black",
      "titleColor": "black"
    }
  }
}
